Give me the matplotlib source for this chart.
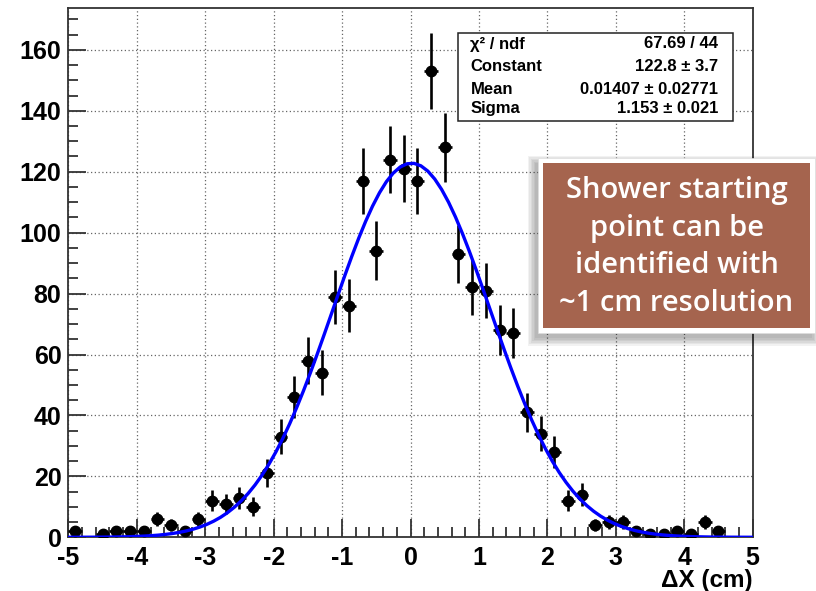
import numpy as np
import matplotlib
matplotlib.use("Agg")
import matplotlib.pyplot as plt
from matplotlib.patches import Rectangle
from matplotlib.ticker import MultipleLocator

plt.rcParams["axes.unicode_minus"] = False

# histogram: 50 bins of 0.2 cm between -5 and 5
x_lo, x_hi, bin_w = -5.0, 5.0, 0.2
counts = [2, 0, 1, 2, 2, 2, 6, 4, 2, 6,
          12, 11, 13, 10, 21, 33, 46, 58, 54, 79,
          76, 117, 94, 124, 121, 117, 153, 128, 93, 82,
          81, 68, 67, 41, 34, 28, 12, 14, 4, 5,
          5, 2, 1, 1, 2, 1, 5, 2, 0, 0]

# gaussian fit result
chi2, ndf = 67.69, 44
const, const_err = 122.8, 3.7
mean, mean_err = 0.01407, 0.02771
sigma, sigma_err = 1.153, 0.021

xlabel = "ΔX (cm)"
note = "Shower starting\npoint can be\nidentified with\n~1 cm resolution"

counts = np.array(counts, dtype=float)
centers = x_lo + bin_w / 2 + bin_w * np.arange(len(counts))
filled = counts > 0

W, H = 816, 591
fig = plt.figure(figsize=(W / 100, H / 100), dpi=100)
ax = fig.add_axes([68.4 / W, 1 - 537.3 / H, (752.7 - 68.4) / W, (537.3 - 8.3) / H])

ymax = (counts + np.sqrt(counts)).max() * 1.05
ax.set_xlim(x_lo, x_hi)
ax.set_ylim(0, ymax)

ax.grid(True, color="#666666", linestyle=(0, (1, 2)), linewidth=0.9)
ax.set_axisbelow(True)

ax.errorbar(centers[filled], counts[filled], yerr=np.sqrt(counts[filled]),
            xerr=bin_w / 2, fmt="o", color="black", markersize=7.5,
            elinewidth=1.9, capsize=0, zorder=3)

xf = np.linspace(x_lo, x_hi, 100)
ax.plot(xf, const * np.exp(-0.5 * ((xf - mean) / sigma) ** 2),
        color="#0000ff", linewidth=2.4, zorder=4)

ax.xaxis.set_major_locator(MultipleLocator(1))
ax.xaxis.set_minor_locator(MultipleLocator(0.2))
ax.yaxis.set_major_locator(MultipleLocator(20))
ax.yaxis.set_minor_locator(MultipleLocator(5))
ax.tick_params(which="both", direction="in", top=False, right=False,
               color="#333333", width=1.3)
ax.tick_params(which="major", length=13, pad=5)
ax.tick_params(axis="x", which="major", pad=6)
ax.tick_params(which="minor", length=7)
for lab in ax.get_xticklabels() + ax.get_yticklabels():
    lab.set_fontfamily("Liberation Sans")
    lab.set_fontweight("bold")
    lab.set_fontsize(18)
for sp in ax.spines.values():
    sp.set_color("#333333")
    sp.set_linewidth(1.3)

fig.text(752.7 / W, 1 - 580 / H, xlabel, ha="right", va="center",
         family="Liberation Sans", weight="bold", fontsize=17.5)

# fit statistics box
bx0, by0, bx1, by1 = 458.3, 33.3, 732.7, 121.0
fig.patches.append(Rectangle((bx0 / W, 1 - by1 / H), (bx1 - bx0) / W, (by1 - by0) / H,
                             transform=fig.transFigure, facecolor="white",
                             edgecolor="#222222", linewidth=1.1, zorder=5))
rows = [("χ² / ndf", f"{chi2:.2f} / {ndf}"),
        ("Constant", f"{const:.1f} ± {const_err:.1f}"),
        ("Mean", f"{mean:.5f} ± {mean_err:.5f}"),
        ("Sigma", f"{sigma:.3f} ± {sigma_err:.3f}")]
row_y = [44, 66.5, 89, 108.5]
for (name, val), yy in zip(rows, row_y):
    fig.text(470.5 / W, 1 - yy / H, name, ha="left", va="center",
             family="Liberation Sans", weight="bold", fontsize=12, zorder=6)
    fig.text(718.5 / W, 1 - yy / H, val, ha="right", va="center",
             family="Liberation Sans", weight="bold", fontsize=12, zorder=6)

# callout with soft shadow
cx0, cy0, cx1, cy1 = 538, 158, 815, 333
for k in range(6):
    g = 1.5 * k
    fig.patches.append(Rectangle(((cx0 - 3 - g) / W, 1 - (cy1 + 5 + g) / H),
                                 (cx1 - cx0 + 2 * g) / W, (cy1 - cy0 + 2 * g) / H,
                                 transform=fig.transFigure, facecolor="black",
                                 edgecolor="none", alpha=0.05, zorder=7))
fig.patches.append(Rectangle((cx0 / W, 1 - cy1 / H), (cx1 - cx0) / W, (cy1 - cy0) / H,
                             transform=fig.transFigure, facecolor="white",
                             edgecolor="#dddddd", linewidth=0.5, zorder=8))
fig.patches.append(Rectangle(((cx0 + 5) / W, 1 - (cy1 - 5) / H),
                             (cx1 - cx0 - 10) / W, (cy1 - cy0 - 10) / H,
                             transform=fig.transFigure, facecolor="#a5644e",
                             edgecolor="none", zorder=9))
fig.text((cx0 + cx1) / 2 / W, 1 - 247 / H, note, ha="center", va="center",
         color="white", family="Open Sans", weight="semibold", fontsize=21,
         linespacing=1.38, zorder=10)

fig.savefig("out.png", dpi=100)
